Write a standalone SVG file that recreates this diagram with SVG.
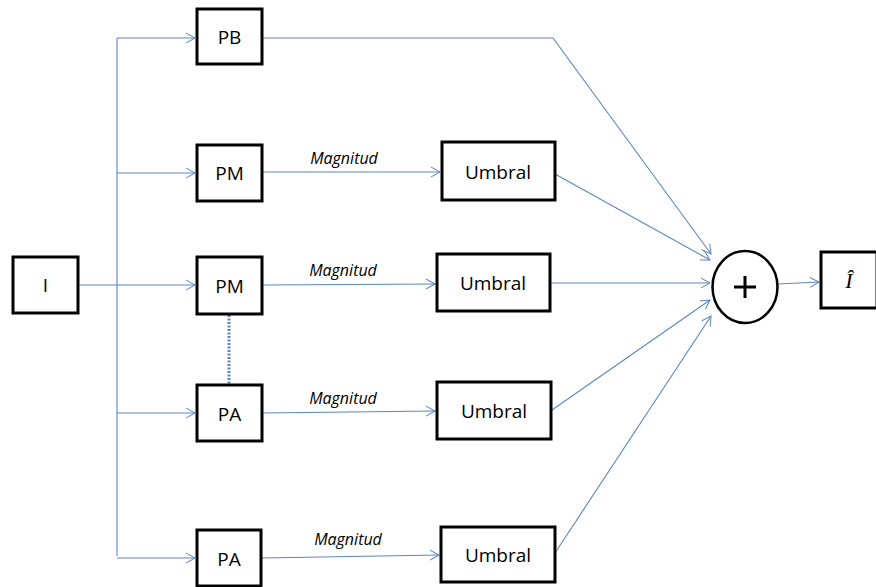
<svg xmlns="http://www.w3.org/2000/svg" width="876" height="587" viewBox="0 0 876 587">
<defs>
<marker id="ah" markerWidth="12" markerHeight="12" refX="10" refY="6" orient="auto" markerUnits="userSpaceOnUse">
<path d="M1,1 L10,6 L1,11" fill="none" stroke="#5b86c0" stroke-width="1"/>
</marker>
</defs>
<style>
.box{fill:#fff;stroke:#000;stroke-width:3}
.t{font-family:"Open Sans","Liberation Sans",Arial,sans-serif;font-size:19px;fill:#000;text-anchor:middle}
.m{font-family:"Open Sans","Liberation Sans",sans-serif;font-style:italic;font-size:16px;fill:#000;text-anchor:middle}
.c{fill:none;stroke:#5b86c0;stroke-width:1.1}
</style>
<rect width="876" height="587" fill="#fff"/>
<g id="connectors">
<path class="c" d="M78,285 L195,285" marker-end="url(#ah)"/>
<path class="c" d="M117,38 L117,556"/>
<path class="c" d="M117,38 L195,38" marker-end="url(#ah)"/>
<path class="c" d="M117,173 L195,173" marker-end="url(#ah)"/>
<path class="c" d="M117,413 L195,413" marker-end="url(#ah)"/>
<path class="c" d="M117,558 L195,558" marker-end="url(#ah)"/>
<path class="c" d="M263,172 L440,172" marker-end="url(#ah)"/>
<path class="c" d="M263,285 L435,284" marker-end="url(#ah)"/>
<path class="c" d="M263,413 L435,411" marker-end="url(#ah)"/>
<path class="c" d="M262,558 L439,555" marker-end="url(#ah)"/>
<path class="c" d="M263,38 L553,38 L711,254" marker-end="url(#ah)"/>
<path class="c" d="M555,174 L710,260" marker-end="url(#ah)"/>
<path class="c" d="M551,283 L710,283" marker-end="url(#ah)"/>
<path class="c" d="M552,410 L710,300" marker-end="url(#ah)"/>
<path class="c" d="M555,553 L711,316" marker-end="url(#ah)"/>
<path class="c" d="M778,284 L819,282" marker-end="url(#ah)"/>
<path d="M229,315 L229,384" fill="none" stroke="#5b86c0" stroke-width="3" stroke-dasharray="2,1.5"/>
</g>
<g id="I"><rect class="box" x="13" y="257" width="65" height="56"/><text class="t" x="45.5" y="292">I</text></g>
<g id="PB"><rect class="box" x="197" y="9" width="65" height="55"/><text class="t" x="229.5" y="44">PB</text></g>
<g id="PM1"><rect class="box" x="197" y="145" width="65" height="56"/><text class="t" x="229.5" y="180">PM</text></g>
<g id="PM2"><rect class="box" x="197" y="257" width="65" height="57"/><text class="t" x="229.5" y="293">PM</text></g>
<g id="PA1"><rect class="box" x="197" y="385" width="65" height="56"/><text class="t" x="229.5" y="421">PA</text></g>
<g id="PA2"><rect class="box" x="197" y="530" width="64" height="56"/><text class="t" x="229" y="566">PA</text></g>
<g id="U1"><rect class="box" x="442" y="142" width="113" height="58"/><text class="t" x="498" y="179">Umbral</text></g>
<g id="U2"><rect class="box" x="437" y="254" width="113" height="57"/><text class="t" x="493" y="290">Umbral</text></g>
<g id="U3"><rect class="box" x="437" y="382" width="114" height="57"/><text class="t" x="494" y="418">Umbral</text></g>
<g id="U4"><rect class="box" x="441" y="527" width="114" height="55"/><text class="t" x="498" y="562">Umbral</text></g>
<g id="labels">
<text class="m" x="344" y="164">Magnitud</text>
<text class="m" x="343" y="276">Magnitud</text>
<text class="m" x="343" y="404">Magnitud</text>
<text class="m" x="348" y="545">Magnitud</text>
</g>
<g id="sum"><ellipse cx="745" cy="287" rx="32.5" ry="36" fill="#fff" stroke="#000" stroke-width="2.5"/>
<path d="M745,276 V298 M734,287 H756" stroke="#000" stroke-width="3"/></g>
<g id="Ihat"><rect class="box" x="821" y="252" width="56" height="56"/>
<text x="849" y="288" font-family="Liberation Serif,serif" font-style="italic" font-size="22" text-anchor="middle">Î</text></g>
</svg>
